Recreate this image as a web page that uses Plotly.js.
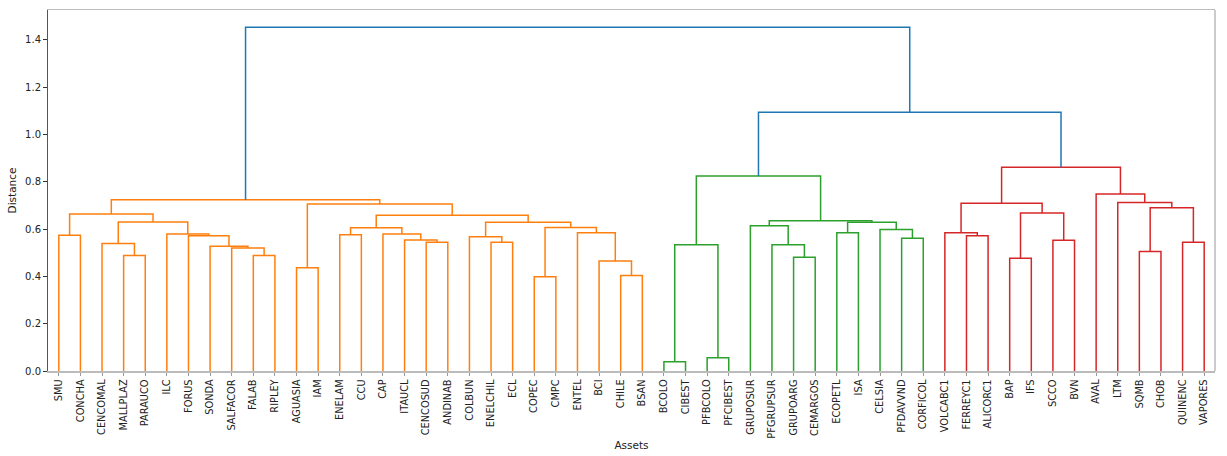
<!DOCTYPE html>
<html>
<head>
<meta charset="utf-8">
<script src="https://cdn.plot.ly/plotly-3.0.1.min.js"></script>
<style>html,body{margin:0;padding:0;background:#fff;}#chart{width:1227px;height:456px;}</style>
</head>
<body>
<div id="chart"></div>
<script>
// Leaf labels in dendrogram order
const labels = ["SMU","CONCHA","CENCOMAL","MALLPLAZ","PARAUCO","ILC","FORUS","SONDA","SALFACOR","FALAB","RIPLEY",
  "AGUASIA","IAM","ENELAM","CCU","CAP","ITAUCL","CENCOSUD","ANDINAB","COLBUN","ENELCHIL","ECL","COPEC","CMPC",
  "ENTEL","BCI","CHILE","BSAN","BCOLO","CIBEST","PFBCOLO","PFCIBEST","GRUPOSUR","PFGRUPSUR","GRUPOARG","CEMARGOS",
  "ECOPETL","ISA","CELSIA","PFDAVVND","CORFICOL","VOLCABC1","FERREYC1","ALICORC1","BAP","IFS","SCCO","BVN",
  "AVAL","LTM","SQMB","CHOB","QUINENC","VAPORES"];

// Linkage (scipy style): left child id, right child id (ids >= 54 are earlier merges)
const mergeLeft  = [0,3,2,9,8,7,6,5,56,54, 11,13,17,16,15,65,20,19,22,26,25,24,72,71,69,64,63,
                    28,30,81,34,33,32,36,39,38,87,86,83,
                    42,41,44,46,95,94,50,52,99,49,48,98,
                    92,80];
const mergeRight = [1,4,55,10,57,58,59,60,61,62, 12,14,18,66,67,68,21,70,23,27,73,74,75,76,77,78,79,
                    29,31,82,35,84,85,37,40,88,89,90,91,
                    43,93,45,47,96,97,51,53,100,101,102,103,
                    104,105];
// Merge distances
const mergeHeight = [0.574,0.488,0.539,0.488,0.520,0.527,0.572,0.579,0.630,0.664,
                     0.436,0.576,0.544,0.554,0.579,0.605,0.544,0.567,0.398,0.404,0.465,0.584,0.606,0.629,0.658,0.706,0.724,
                     0.039,0.056,0.534,0.481,0.534,0.614,0.584,0.561,0.598,0.629,0.635,0.824,
                     0.572,0.584,0.477,0.553,0.668,0.709,0.505,0.544,0.690,0.712,0.748,0.861,
                     1.094,1.453];

const n = labels.length;
const maxH = Math.max(...mergeHeight);
const threshold = 0.7 * maxH;
const palette = ["#ff7f0e","#2ca02c","#d62728","#9467bd","#8c564b","#e377c2"];
const aboveColor = "#1f77b4";
let nextColor = 0;
const segs = {}; // color -> {x:[], y:[]}

function addLink(color, xs, ys) {
  if (!segs[color]) segs[color] = {x: [], y: []};
  segs[color].x.push(...xs, null);
  segs[color].y.push(...ys, null);
}

// returns [xpos, height]
function walk(id, color) {
  if (id < n) return [10 * id + 5, 0];
  const k = id - n;
  const h = mergeHeight[k];
  let c = color;
  if (c === null && h < threshold) c = palette[nextColor++ % palette.length];
  const L = walk(mergeLeft[k], c);
  const R = walk(mergeRight[k], c);
  const linkColor = h < threshold ? c : aboveColor;
  addLink(linkColor, [L[0], L[0], R[0], R[0]], [L[1], h, h, R[1]]);
  return [(L[0] + R[0]) / 2, h];
}
walk(n + mergeHeight.length - 1, null);

const traces = Object.keys(segs).map(col => ({
  type: "scatter", mode: "lines", x: segs[col].x, y: segs[col].y,
  line: {color: col, width: 1.5}, hoverinfo: "skip", showlegend: false
}));

const tickvals = labels.map((_, i) => 10 * i + 5);
const font = "DejaVu Sans, Arial, sans-serif";

const layout = {
  width: 1227, height: 456,
  margin: {l: 48, r: 12, t: 10, b: 85},
  paper_bgcolor: "#fff", plot_bgcolor: "#fff",
  font: {family: font, color: "#222"},
  xaxis: {
    range: [0, 10 * n], tickvals: tickvals, ticktext: labels, tickangle: -90,
    tickfont: {size: 9.8, family: font, color: "#222"},
    ticks: "outside", ticklen: 3, tickcolor: "#999",
    showline: true, linecolor: "#bbb", linewidth: 1.5, mirror: true,
    showgrid: false, zeroline: false,
    title: {text: "Assets", font: {size: 10.5, family: font, color: "#222"}, standoff: 4}
  },
  yaxis: {
    range: [0, maxH * 1.05], dtick: 0.2, tick0: 0, tickformat: ".1f",
    tickfont: {size: 10, family: font, color: "#222"},
    ticks: "outside", ticklen: 3.5, tickcolor: "#333",
    showline: true, linecolor: "#555", linewidth: 1.5,
    showgrid: false, zeroline: false,
    title: {text: "Distance", font: {size: 10.5, family: font, color: "#222"}, standoff: 6}
  },
  shapes: [{type: "line", xref: "paper", yref: "paper", x0: 1, x1: 1, y0: 0, y1: 1,
            line: {color: "#bbb", width: 1.5}}]
};

Plotly.newPlot("chart", traces, layout, {displayModeBar: false, staticPlot: true});
</script>
</body>
</html>
